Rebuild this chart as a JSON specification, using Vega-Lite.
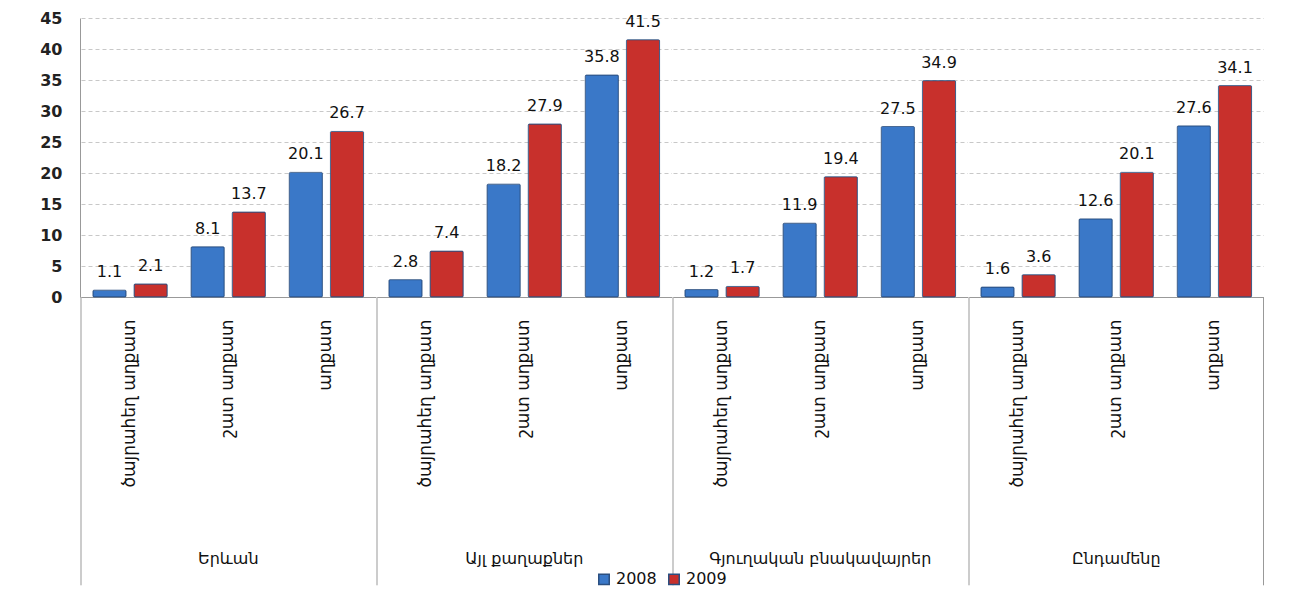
{
  "$schema": "https://vega.github.io/schema/vega-lite/v6.json",
  "background": "white",
  "padding": {"left": 20, "top": 10, "right": 5, "bottom": 0},
  "data": {"values": [
    {"group": "Երևան", "sub": "ծայրահեղ աղքատ", "year": "2008", "value": 1.1},
    {"group": "Երևան", "sub": "ծայրահեղ աղքատ", "year": "2009", "value": 2.1},
    {"group": "Երևան", "sub": "շատ աղքատ", "year": "2008", "value": 8.1},
    {"group": "Երևան", "sub": "շատ աղքատ", "year": "2009", "value": 13.7},
    {"group": "Երևան", "sub": "աղքատ", "year": "2008", "value": 20.1},
    {"group": "Երևան", "sub": "աղքատ", "year": "2009", "value": 26.7},
    {"group": "Այլ քաղաքներ", "sub": "ծայրահեղ աղքատ", "year": "2008", "value": 2.8},
    {"group": "Այլ քաղաքներ", "sub": "ծայրահեղ աղքատ", "year": "2009", "value": 7.4},
    {"group": "Այլ քաղաքներ", "sub": "շատ աղքատ", "year": "2008", "value": 18.2},
    {"group": "Այլ քաղաքներ", "sub": "շատ աղքատ", "year": "2009", "value": 27.9},
    {"group": "Այլ քաղաքներ", "sub": "աղքատ", "year": "2008", "value": 35.8},
    {"group": "Այլ քաղաքներ", "sub": "աղքատ", "year": "2009", "value": 41.5},
    {"group": "Գյուղական բնակավայրեր", "sub": "ծայրահեղ աղքատ", "year": "2008", "value": 1.2},
    {"group": "Գյուղական բնակավայրեր", "sub": "ծայրահեղ աղքատ", "year": "2009", "value": 1.7},
    {"group": "Գյուղական բնակավայրեր", "sub": "շատ աղքատ", "year": "2008", "value": 11.9},
    {"group": "Գյուղական բնակավայրեր", "sub": "շատ աղքատ", "year": "2009", "value": 19.4},
    {"group": "Գյուղական բնակավայրեր", "sub": "աղքատ", "year": "2008", "value": 27.5},
    {"group": "Գյուղական բնակավայրեր", "sub": "աղքատ", "year": "2009", "value": 34.9},
    {"group": "Ընդամենը", "sub": "ծայրահեղ աղքատ", "year": "2008", "value": 1.6},
    {"group": "Ընդամենը", "sub": "ծայրահեղ աղքատ", "year": "2009", "value": 3.6},
    {"group": "Ընդամենը", "sub": "շատ աղքատ", "year": "2008", "value": 12.6},
    {"group": "Ընդամենը", "sub": "շատ աղքատ", "year": "2009", "value": 20.1},
    {"group": "Ընդամենը", "sub": "աղքատ", "year": "2008", "value": 27.6},
    {"group": "Ընդամենը", "sub": "աղքատ", "year": "2009", "value": 34.1}
  ]},
  "facet": {
    "column": {
      "field": "group", "type": "nominal",
      "sort": ["Երևան", "Այլ քաղաքներ", "Գյուղական բնակավայրեր", "Ընդամենը"],
      "header": {"title": null, "labelOrient": "bottom", "labelFont": "DejaVu Sans", "labelFontSize": 16, "labelColor": "#111", "labelPadding": -35}
    }
  },
  "spacing": 0,
  "resolve": {"axis": {"x": "independent"}},
  "spec": {
    "width": 294.5,
    "height": 279,
    "encoding": {
      "x": {
        "field": "sub", "type": "nominal",
        "sort": ["ծայրահեղ աղքատ", "շատ աղքատ", "աղքատ"],
        "scale": {"paddingInner": 0, "paddingOuter": 0},
        "axis": {"title": null, "labelAngle": -90, "ticks": false, "labelPadding": 22, "labelFont": "DejaVu Sans", "labelFontSize": 17, "labelColor": "#111", "domainColor": "#999", "labelLimit": 300}
      }
    },
    "layer": [
      {
        "mark": {"type": "bar", "stroke": "#2b4f80", "strokeWidth": 0.8, "cornerRadius": 1},
        "encoding": {
          "xOffset": {"field": "year", "type": "nominal", "scale": {"paddingInner": 0.195, "paddingOuter": 0.29}},
          "y": {
            "field": "value", "type": "quantitative",
            "scale": {"domain": [0, 45]},
            "axis": {"title": null, "values": [0,5,10,15,20,25,30,35,40,45], "labelOverlap": false, "ticks": false, "labelPadding": 18, "labelFont": "DejaVu Sans", "labelFontSize": 16, "labelFontWeight": "bold", "labelColor": "#222", "domainColor": "#999", "gridColor": "#c8c8c8", "gridDash": [4, 3], "minExtent": 60, "maxExtent": 60}
          },
          "color": {
            "field": "year", "type": "nominal",
            "scale": {"range": ["#3a78c8", "#c8302c"]},
            "legend": {"title": null, "orient": "none", "legendX": 515, "legendY": 553, "direction": "horizontal", "symbolType": "square", "symbolSize": 110, "labelFont": "DejaVu Sans", "labelFontSize": 16, "labelColor": "#111", "columnPadding": 8}
          }
        }
      },
      {
        "mark": {"type": "text", "baseline": "bottom", "dy": -10, "font": "DejaVu Sans", "fontSize": 16, "color": "#111"},
        "encoding": {
          "xOffset": {"field": "year", "type": "nominal", "scale": {"paddingInner": 0.195, "paddingOuter": 0.29}},
          "y": {
            "field": "value", "type": "quantitative",
            "scale": {"domain": [0, 45]},
            "axis": {"title": null, "values": [0,5,10,15,20,25,30,35,40,45], "labelOverlap": false, "ticks": false, "labelPadding": 18, "labelFont": "DejaVu Sans", "labelFontSize": 16, "labelFontWeight": "bold", "labelColor": "#222", "domainColor": "#999", "gridColor": "#c8c8c8", "gridDash": [4, 3], "minExtent": 60, "maxExtent": 60}
          },
          "text": {"field": "value", "type": "quantitative", "format": ".1f"}
        }
      },
      {
        "transform": [{"filter": "datum.sub === 'ծայրահեղ աղքատ' && datum.year === '2008'"}],
        "mark": {"type": "rule", "color": "#999", "strokeWidth": 1, "clip": false},
        "encoding": {
          "x": {"field": "sub", "type": "nominal", "bandPosition": 0, "sort": ["ծայրահեղ աղքատ", "շատ աղքատ", "աղքատ"]},
          "y": {"datum": 0, "type": "quantitative", "axis": {"title": null, "values": [0,5,10,15,20,25,30,35,40,45], "labelOverlap": false, "ticks": false, "labelPadding": 18, "labelFont": "DejaVu Sans", "labelFontSize": 16, "labelFontWeight": "bold", "labelColor": "#222", "domainColor": "#999", "gridColor": "#c8c8c8", "gridDash": [4, 3], "minExtent": 60, "maxExtent": 60}},
          "y2": {"datum": -46.5}
        }
      },
      {
        "transform": [{"filter": "datum.group === 'Ընդամենը' && datum.sub === 'աղքատ' && datum.year === '2009'"}],
        "mark": {"type": "rule", "color": "#999", "strokeWidth": 1, "clip": false},
        "encoding": {
          "x": {"field": "sub", "type": "nominal", "bandPosition": 1, "sort": ["ծայրահեղ աղքատ", "շատ աղքատ", "աղքատ"]},
          "y": {"datum": 0, "type": "quantitative", "axis": {"title": null, "values": [0,5,10,15,20,25,30,35,40,45], "labelOverlap": false, "ticks": false, "labelPadding": 18, "labelFont": "DejaVu Sans", "labelFontSize": 16, "labelFontWeight": "bold", "labelColor": "#222", "domainColor": "#999", "gridColor": "#c8c8c8", "gridDash": [4, 3], "minExtent": 60, "maxExtent": 60}},
          "y2": {"datum": -46.5}
        }
      }
    ]
  },
  "config": {"view": {"stroke": null}}
}
